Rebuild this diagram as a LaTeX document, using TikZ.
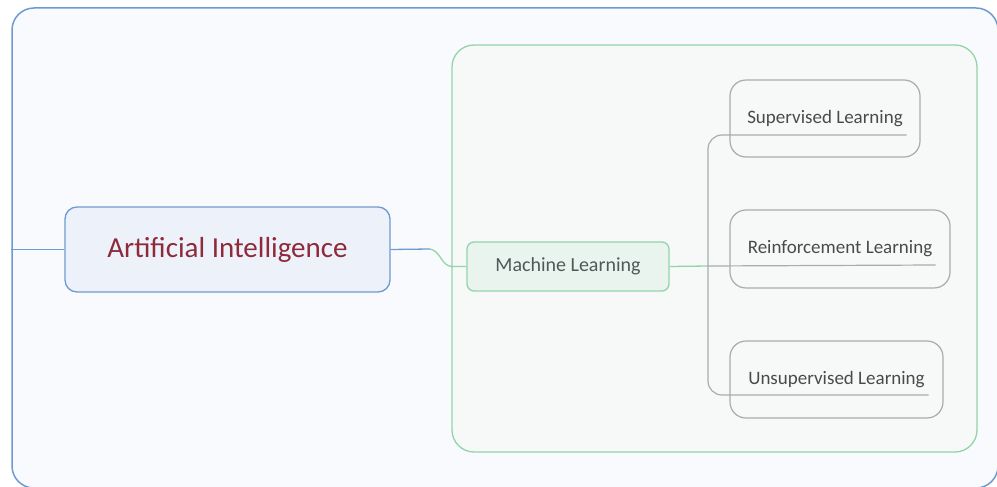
\documentclass[tikz,border=0pt]{standalone}
\usepackage{fontspec}
\setmainfont{Carlito}
\usetikzlibrary{calc}
\definecolor{frameblue}{HTML}{6E9BCF}
\definecolor{framefill}{HTML}{F8FAFD}
\definecolor{aifill}{HTML}{EDF2FA}
\definecolor{aitext}{HTML}{8E2A3A}
\definecolor{mlgreen}{HTML}{93D4A9}
\definecolor{mlfill}{HTML}{EAF4EE}
\definecolor{boxfill}{HTML}{F7F9F9}
\definecolor{mltext}{HTML}{4C5A5A}
\definecolor{leafgray}{HTML}{ABABAB}
\definecolor{leaftext}{HTML}{4A4A4A}
\tikzset{
  outerframe/.style={draw=frameblue, line width=1.5pt, fill=framefill, rounded corners=22pt},
  mlframe/.style={draw=mlgreen, line width=1.3pt, fill=boxfill, rounded corners=22pt},
  topic/.style={draw=frameblue, line width=1.3pt, fill=aifill, rounded corners=12pt, text=aitext, font=\fontsize{29}{32}\selectfont},
  subtopic/.style={draw=mlgreen, line width=1.3pt, fill=mlfill, rounded corners=7pt, text=mltext, font=\fontsize{20}{24}\selectfont},
  leaf/.style={draw=leafgray, line width=1.2pt, rounded corners=16pt, text=leaftext, font=\fontsize{19}{22}\selectfont},
  ailine/.style={frameblue, line width=1.3pt},
  mlline/.style={mlgreen, line width=1.3pt},
  branch/.style={leafgray, line width=1.2pt},
}
\begin{document}
\begin{tikzpicture}[x=1pt, y=-1pt]
\useasboundingbox (0,0) rectangle (997,487);
% containers
\node[outerframe, minimum width=986pt, minimum height=480pt] (frame) at (505,248) {};
\node[mlframe, minimum width=525pt, minimum height=407pt] (mlbox) at (714.5,248.5) {};
% nodes
\node[topic, minimum width=325pt, minimum height=85pt] (ai) at (227.5,249.5) {Artificial Intelligence};
\node[subtopic, minimum width=202pt, minimum height=49pt] (ml) at (568,266.5) {Machine Learning};
\node[leaf, minimum width=190pt, minimum height=77pt] (sup) at (825,118.5) {Supervised Learning};
\node[leaf, minimum width=220pt, minimum height=78pt] (rein) at (840,249) {Reinforcement Learning};
\node[leaf, minimum width=213pt, minimum height=77pt] (unsup) at (836.5,379.5) {Unsupervised Learning};
\coordinate (aiout) at (430,249);
\coordinate (trunk) at (708,266);
% connectors
\draw[ailine] (frame.west |- ai.west) -- (ai.west);
\draw[ailine] (ai.east) -- (aiout);
\draw[mlline] (aiout) to[out=-10,in=180] ($(ml.west)+(-14,0)$) -- (ml.west);
\draw[mlline] (ml.east) -- (trunk);
\draw[branch, rounded corners=14pt] ($(sup.east)+(-14,16.5)$) -| (trunk) |- ($(unsup.east)+(-15,15.5)$);
\draw[branch] (trunk) -- ($(rein.east)+(-15,16)$);
\end{tikzpicture}
\end{document}
